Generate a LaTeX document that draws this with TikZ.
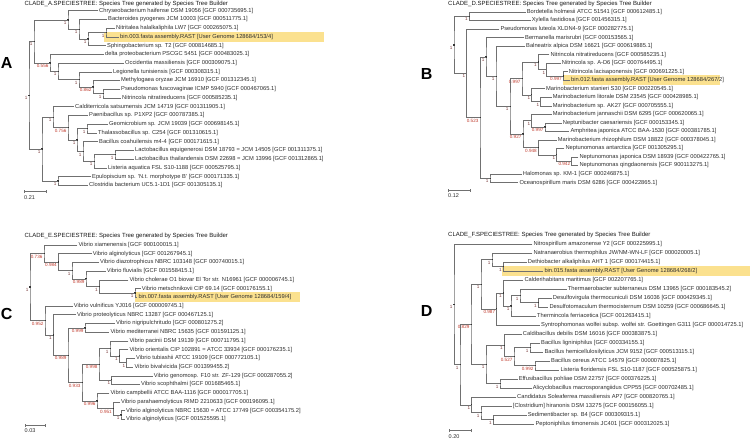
\documentclass[tikz,border=0pt]{standalone}
\usepackage{fontspec}
\setmainfont{Liberation Sans}
\usetikzlibrary{calc}
\definecolor{brc}{HTML}{707070}
\definecolor{txc}{HTML}{2E2E2E}
\definecolor{supc}{HTML}{C0392B}
\definecolor{supone}{HTML}{7A3A3A}
\definecolor{hil}{HTML}{FBE18F}
\def\labone{1}
\tikzset{
 br/.style={draw=brc, line width=0.55pt},
 mk/.style={fill=black!80},
 leaf/.style={anchor=west, inner xsep=1pt, inner ysep=0pt, text height=4.1pt, text depth=1.2pt, font=\fontsize{5.75}{6}\selectfont, text=txc},
 supl/.style={anchor=north east, inner sep=0pt, text height=3.3pt, text depth=0pt, font=\fontsize{4.6}{5}\selectfont},
 ttl/.style={anchor=west, inner sep=0pt, text height=4.4pt, text depth=1.3pt, font=\fontsize{6}{7}\selectfont, text=black!90},
 scl/.style={anchor=west, inner sep=0pt, text height=3.8pt, text depth=0pt, font=\fontsize{5.5}{6}\selectfont, text=txc},
 panl/.style={inner sep=0pt, font=\fontsize{16}{16}\selectfont\bfseries},
 hl/.style={fill=hil},
}
\newcommand\tnode[5]{%
  \path let \p1=($(#3)!.5!(#4)$) in coordinate (#1) at (#2pt,\y1);
  \draw[br] (#3) -| (#1) |- (#4);
  \fill[mk] ($(#1)+(-0.7pt,-0.7pt)$) rectangle ($(#1)+(0.7pt,0.7pt)$);
  \def\tmplab{#5}%
  \ifx\tmplab\labone\def\labcol{supone}\else\def\labcol{supc}\fi
  \node[supl,text=\labcol] (#1-l) at ($(#1)+(-1.4pt,-1.1pt)$) {#5};
}
\begin{document}
\begin{tikzpicture}[x=1pt,y=-1pt]
\fill[white] (0,0) rectangle (750,440);
\useasboundingbox (0,0) rectangle (750,440);

% highlights
\fill[hl] (104,32) rectangle (324,41.8);
\fill[hl] (562.7,75.3) rectangle (720,85.3);
\fill[hl] (135,291.8) rectangle (300,302);
\fill[hl] (501.7,265.5) rectangle (750,276);

% titles and panel letters
\node[ttl] (TA) at (24.5,4.3) {CLADE\_A.SPECIESTREE: Species Tree generated by Species Tree Builder};
\node[ttl] (TB) at (448,4.3) {CLADE\_D.SPECIESTREE: Species Tree generated by Species Tree Builder};
\node[ttl] (TC) at (24.5,236) {CLADE\_E.SPECIESTREE: Species Tree generated by Species Tree Builder};
\node[ttl] (TD) at (448,235) {CLADE\_F.SPECIESTREE: Species Tree generated by Species Tree Builder};
\node[panl] (LA) at (6.7,62.5) {A};
\node[panl] (LB) at (426.7,74) {B};
\node[panl] (LC) at (6.7,313.5) {C};
\node[panl] (LD) at (426.7,311) {D};

% ---------------- Panel A leaves
\node[leaf] (a1) at (98,10.7) {Chryseobacterium haifense DSM 19056 [GCF 000735695.1]};
\node[leaf] (a2) at (107,19.43) {Bacteroides pyogenes JCM 10003 [GCF 000511775.1]};
\node[leaf] (a3) at (115,28.16) {Nitritalea halalkaliphila LW7 [GCF 000265075.1]};
\node[leaf] (a4) at (119,36.89) {bin.003.fasta assembly.RAST [User Genome 128684/153/4]};
\node[leaf] (a5) at (106,45.62) {Sphingobacterium sp. T2 [GCF 000814685.1]};
\node[leaf] (a6) at (104,54.35) {delta proteobacterium PSCGC 5451 [GCF 000483025.1]};
\node[leaf] (a7) at (124,63.08) {Occidentia massiliensis [GCF 000309075.1]};
\node[leaf] (a8) at (112,71.81) {Legionella tunisiensis [GCF 000308315.1]};
\node[leaf] (a9) at (120,80.54) {Methylogaea oryzae JCM 16910 [GCF 001312345.1]};
\node[leaf] (a10) at (120,89.27) {Pseudomonas fuscovaginae ICMP 5940 [GCF 000467065.1]};
\node[leaf] (a11) at (121,98.0) {Nitrincola nitratireducens [GCF 000585235.1]};
\node[leaf] (a12) at (74,106.73) {Calditerricola satsumensis JCM 14719 [GCF 001311905.1]};
\node[leaf] (a13) at (88,115.46) {Paenibacillus sp. P1XP2 [GCF 000787385.1]};
\node[leaf] (a14) at (108,124.19) {Geomicrobium sp. JCM 19039 [GCF 000698145.1]};
\node[leaf] (a15) at (97,132.92) {Thalassobacillus sp. C254 [GCF 001310615.1]};
\node[leaf] (a16) at (98,141.65) {Bacillus coahuilensis m4-4 [GCF 000171615.1]};
\node[leaf] (a17) at (134,150.38) {Lactobacillus equigenerosi DSM 18793 = JCM 14505 [GCF 001311375.1]};
\node[leaf] (a18) at (134,159.11) {Lactobacillus thailandensis DSM 22698 = JCM 13996 [GCF 001312865.1]};
\node[leaf] (a19) at (107,167.84) {Listeria aquatica FSL S10-1188 [GCF 000525795.1]};
\node[leaf] (a20) at (91,176.57) {Epulopiscium sp. 'N.t. morphotype B' [GCF 000171335.1]};
\node[leaf] (a21) at (88,185.3) {Clostridia bacterium UC5.1-1D1 [GCF 001305135.1]};

\tnode{aN34}{106}{a3.west}{a4.west}{1}
\tnode{aN345}{88}{aN34}{a5.west}{1}
\tnode{aN2345}{79}{a2.west}{aN345}{1}
\tnode{aN15}{68}{a1.west}{aN2345}{1}
\tnode{aN1011}{103}{a10.west}{a11.west}{1}
\tnode{aN911}{93}{a9.west}{aN1011}{0.862}
\tnode{aN811}{79}{a8.west}{aN911}{1}
\tnode{aN711}{58}{a7.west}{aN811}{1}
\tnode{aN611}{50}{a6.west}{aN711}{0.556}
\tnode{aN111}{34}{aN15}{aN611}{1}
\tnode{aF1415}{87}{a14.west}{a15.west}{1}
\tnode{aF1718}{115}{a17.west}{a18.west}{1}
\tnode{aF1719}{94}{aF1718}{a19.west}{1}
\tnode{aF1619}{83}{a16.west}{aF1719}{1}
\tnode{aF1419}{77}{aF1415}{aF1619}{1}
\tnode{aF1319}{68}{a13.west}{aF1419}{0.756}
\tnode{aF1219}{53}{a12.west}{aF1319}{1}
\tnode{aF2021}{58}{a20.west}{a21.west}{1}
\tnode{aFall}{42}{aF1219}{aF2021}{1}
\tnode{aRoot}{29}{aN111}{aFall}{1}

\coordinate (sA1) at (24,191.7); \coordinate (sA2) at (46,191.7);
\draw[br] (sA1) -- (sA2);
\draw[br] ($(sA1)+(0,-1.5pt)$) -- ($(sA1)+(0,1.5pt)$);
\draw[br] ($(sA2)+(0,-1.5pt)$) -- ($(sA2)+(0,1.5pt)$);
\node[scl] (sAl) at (24,197.5) {0.21};

% ---------------- Panel B leaves
\node[leaf] (b1) at (525.7,12) {Bordetella holmesii ATCC 51541 [GCF 000612485.1]};
\node[leaf] (b2) at (530.7,20.53) {Xylella fastidiosa [GCF 001456315.1]};
\node[leaf] (b3) at (499.3,29.06) {Pseudomonas luteola XLDN4-9 [GCF 000282775.1]};
\node[leaf] (b4) at (524,37.59) {Bermanella marisrubri [GCF 000153565.1]};
\node[leaf] (b5) at (525,46.12) {Balneatrix alpica DSM 16621 [GCF 000619885.1]};
\node[leaf] (b6) at (549.3,54.65) {Nitrincola nitratireducens [GCF 000585235.1]};
\node[leaf] (b7) at (560.7,63.18) {Nitrincola sp. A-D6 [GCF 000764495.1]};
\node[leaf] (b8) at (567.7,71.71) {Nitrincola lacisaponensis [GCF 000691225.1]};
\node[leaf] (b9) at (570,80.24) {bin.012.fasta assembly.RAST [User Genome 128684/267/2]};
\node[leaf] (b10) at (545,88.77) {Marinobacterium stanieri S30 [GCF 000220545.1]};
\node[leaf] (b11) at (551.7,97.3) {Marinobacterium litorale DSM 23545 [GCF 000428985.1]};
\node[leaf] (b12) at (551.7,105.83) {Marinobacterium sp. AK27 [GCF 000705555.1]};
\node[leaf] (b13) at (551.7,114.36) {Marinobacterium jannaschii DSM 6295 [GCF 000620065.1]};
\node[leaf] (b14) at (561.7,122.89) {Neptunibacter caesariensis [GCF 000153345.1]};
\node[leaf] (b15) at (569.3,131.42) {Amphritea japonica ATCC BAA-1530 [GCF 000381785.1]};
\node[leaf] (b16) at (556.7,139.95) {Marinobacterium rhizophilum DSM 18822 [GCF 000378045.1]};
\node[leaf] (b17) at (564.3,148.48) {Neptunomonas antarctica [GCF 001305295.1]};
\node[leaf] (b18) at (578.3,157.01) {Neptunomonas japonica DSM 18939 [GCF 000422765.1]};
\node[leaf] (b19) at (578.3,165.54) {Neptunomonas qingdaonensis [GCF 900113275.1]};
\node[leaf] (b20) at (521.7,174.07) {Halomonas sp. KM-1 [GCF 000246875.1]};
\node[leaf] (b21) at (518.3,182.6) {Oceanospirillum maris DSM 6286 [GCF 000422865.1]};

\tnode{bN12}{469.3}{b1.west}{b2.west}{1}
\tnode{bNit3}{563.3}{b8.west}{b9.west}{0.997}
\tnode{bNit2}{546.7}{b7.west}{bNit3}{1}
\tnode{bNit1}{538.3}{b6.west}{bNit2}{1}
\tnode{bMS2}{540.7}{b11.west}{b12.west}{1}
\tnode{bMS1}{531.7}{b10.west}{bMS2}{1}
\tnode{bU}{522}{bNit1}{bMS1}{0.997}
\tnode{bMJ2}{545}{b14.west}{b15.west}{0.997}
\tnode{bMJ1}{531.7}{b13.west}{bMJ2}{1}
\tnode{bNep2}{571.7}{b18.west}{b19.west}{0.942}
\tnode{bNep1}{556.7}{b17.west}{bNep2}{1}
\tnode{bRh1}{538.3}{b16.west}{bNep1}{0.948}
\tnode{bL}{523}{bMJ1}{bRh1}{0.927}
\tnode{bN5}{510}{bU}{bL}{1}
\tnode{bN4}{496}{b5.west}{bN5}{1}
\tnode{bN3}{486}{b4.west}{bN4}{1}
\tnode{bHalo}{490}{b20.west}{b21.west}{1}
\tnode{bN2}{480}{bN3}{bHalo}{0.523}
\tnode{bRest}{466.7}{b3.west}{bN2}{1}
\tnode{bRoot}{454}{bN12}{bRest}{1}

\coordinate (sB1) at (448.3,190); \coordinate (sB2) at (470,190);
\draw[br] (sB1) -- (sB2);
\draw[br] ($(sB1)+(0,-1.5pt)$) -- ($(sB1)+(0,1.5pt)$);
\draw[br] ($(sB2)+(0,-1.5pt)$) -- ($(sB2)+(0,1.5pt)$);
\node[scl] (sBl) at (448,195.5) {0.12};

% ---------------- Panel C leaves
\node[leaf] (c1) at (77.3,245) {Vibrio xiamenensis [GCF 900100015.1]};
\node[leaf] (c2) at (91.7,253.72) {Vibrio alginolyticus [GCF 001267945.1]};
\node[leaf] (c3) at (99,262.44) {Vibrio diazotrophicus NBRC 103148 [GCF 000740015.1]};
\node[leaf] (c4) at (105.7,271.16) {Vibrio fluvialis [GCF 001558415.1]};
\node[leaf] (c5) at (128.3,279.88) {Vibrio cholerae O1 biovar El Tor str. N16961 [GCF 000006745.1]};
\node[leaf] (c6) at (140.7,288.6) {Vibrio metschnikovii CIP 69.14 [GCF 000176155.1]};
\node[leaf] (c7) at (137.3,297.32) {bin.007.fasta assembly.RAST [User Genome 128684/159/4]};
\node[leaf] (c8) at (72.7,306.04) {Vibrio vulnificus YJ016 [GCF 000009745.1]};
\node[leaf] (c9) at (76,314.76) {Vibrio proteolyticus NBRC 13287 [GCF 000467125.1]};
\node[leaf] (c10) at (115,323.48) {Vibrio nigripulchritudo [GCF 000801275.2]};
\node[leaf] (c11) at (109.3,332.2) {Vibrio mediterranei NBRC 15635 [GCF 001591125.1]};
\node[leaf] (c12) at (128.3,340.92) {Vibrio pacinii DSM 19139 [GCF 000711795.1]};
\node[leaf] (c13) at (128.3,349.64) {Vibrio orientalis CIP 102891 = ATCC 33934 [GCF 000176235.1]};
\node[leaf] (c14) at (135,358.36) {Vibrio tubiashii ATCC 19109 [GCF 000772105.1]};
\node[leaf] (c15) at (133.3,367.08) {Vibrio bivalvicida [GCF 001399455.2]};
\node[leaf] (c16) at (152.7,375.8) {Vibrio genomosp. F10 str. ZF-129 [GCF 000287055.2]};
\node[leaf] (c17) at (140,384.52) {Vibrio scophthalmi [GCF 001685465.1]};
\node[leaf] (c18) at (109.3,393.24) {Vibrio campbellii ATCC BAA-1116 [GCF 000017705.1]};
\node[leaf] (c19) at (120,401.96) {Vibrio parahaemolyticus RIMD 2210633 [GCF 000196095.1]};
\node[leaf] (c20) at (125,410.68) {Vibrio alginolyticus NBRC 15630 = ATCC 17749 [GCF 000354175.2]};
\node[leaf] (c21) at (125,419.4) {Vibrio alginolyticus [GCF 001525595.1]};

\tnode{cN67}{135}{c6.west}{c7.west}{1}
\tnode{cN57}{99.3}{c5.west}{cN67}{1}
\tnode{cN47}{86}{c4.west}{cN57}{0.989}
\tnode{cN37}{72}{c3.west}{cN47}{1}
\tnode{cN27}{58.3}{c2.west}{cN37}{0.984}
\tnode{cN17}{44}{c1.west}{cN27}{0.736}
\tnode{cN1011}{85}{c10.west}{c11.west}{0.999}
\tnode{cN1415}{126.7}{c14.west}{c15.west}{1}
\tnode{cN1315}{119.3}{c13.west}{cN1415}{1}
\tnode{cN1215}{110}{c12.west}{cN1315}{1}
\tnode{cN1617}{111.7}{c16.west}{c17.west}{1}
\tnode{cN1217}{99}{cN1215}{cN1617}{0.998}
\tnode{cN2021}{121}{c20.west}{c21.west}{1}
\tnode{cN1921}{113.3}{c19.west}{cN2021}{0.951}
\tnode{cN1821}{97}{c18.west}{cN1921}{0.996}
\tnode{cN1221}{82}{cN1217}{cN1821}{0.933}
\tnode{cN1021}{68}{cN1011}{cN1221}{0.989}
\tnode{cN921}{53.3}{c9.west}{cN1021}{1}
\tnode{cN821}{45}{c8.west}{cN921}{0.952}
\tnode{cRoot}{30}{cN17}{cN821}{1}

\coordinate (sC1) at (25,425.3); \coordinate (sC2) at (45.7,425.3);
\draw[br] (sC1) -- (sC2);
\draw[br] ($(sC1)+(0,-1.5pt)$) -- ($(sC1)+(0,1.5pt)$);
\draw[br] ($(sC2)+(0,-1.5pt)$) -- ($(sC2)+(0,1.5pt)$);
\node[scl] (sCl) at (24.5,431) {0.03};

% ---------------- Panel D leaves
\node[leaf] (d1) at (532.3,244) {Nitrospirillum amazonense Y2 [GCF 000225995.1]};
\node[leaf] (d2) at (532.3,253) {Natranaerobius thermophilus JW/NM-WN-LF [GCF 000020005.1]};
\node[leaf] (d3) at (526.7,262) {Dethiobacter alkaliphilus AHT 1 [GCF 000174415.1]};
\node[leaf] (d4) at (543.3,271) {bin.015.fasta assembly.RAST [User Genome 128684/268/2]};
\node[leaf] (d5) at (523.3,280) {Calderihabitans maritimus [GCF 002207765.1]};
\node[leaf] (d6) at (566.7,289) {Thermaerobacter subterraneus DSM 13965 [GCF 000183545.2]};
\node[leaf] (d7) at (551.7,298) {Desulfovirgula thermocuniculi DSM 16036 [GCF 000429345.1]};
\node[leaf] (d8) at (548.3,307) {Desulfotomaculum thermocisternum DSM 10259 [GCF 000686645.1]};
\node[leaf] (d9) at (536,316) {Thermincola ferriacetica [GCF 001263415.1]};
\node[leaf] (d10) at (540,325) {Syntrophomonas wolfei subsp. wolfei str. Goettingen G311 [GCF 000014725.1]};
\node[leaf] (d11) at (521.7,334) {Caldibacillus debilis DSM 16016 [GCF 000383875.1]};
\node[leaf] (d12) at (540,343) {Bacillus ligniniphilus [GCF 000334155.1]};
\node[leaf] (d13) at (543.3,352) {Bacillus hemicellulosilyticus JCM 9152 [GCF 000513115.1]};
\node[leaf] (d14) at (550,361) {Bacillus cereus ATCC 14579 [GCF 000007825.1]};
\node[leaf] (d15) at (559.3,370) {Listeria floridensis FSL S10-1187 [GCF 000525875.1]};
\node[leaf] (d16) at (517.7,379) {Effusibacillus pohliae DSM 22757 [GCF 000376225.1]};
\node[leaf] (d17) at (531.7,388) {Alicyclobacillus macrosporangiidus CPP55 [GCF 000702485.1]};
\node[leaf] (d18) at (516,397) {Candidatus Soleaferrea massiliensis AP7 [GCF 000820765.1]};
\node[leaf] (d19) at (511.7,406) {[Clostridium] hiranonis DSM 13275 [GCF 000156055.1]};
\node[leaf] (d20) at (526.7,415) {Sedimentibacter sp. B4 [GCF 000309315.1]};
\node[leaf] (d21) at (534.3,424) {Peptoniphilus timonensis JC401 [GCF 000312025.1]};

\tnode{dN34}{503.3}{d3.west}{d4.west}{1}
\tnode{dN24}{492}{d2.west}{dN34}{1}
\tnode{dN78}{538.3}{d7.west}{d8.west}{1}
\tnode{dN68}{520}{d6.west}{dN78}{1}
\tnode{dN69}{511}{dN68}{d9.west}{1}
\tnode{dN59}{503.3}{d5.west}{dN69}{1}
\tnode{dN510}{496.7}{dN59}{d10.west}{0.987}
\tnode{dA}{481}{dN24}{dN510}{1}
\tnode{dN1213}{530}{d12.west}{d13.west}{1}
\tnode{dN1415}{535}{d14.west}{d15.west}{0.992}
\tnode{dN1215}{514}{dN1213}{dN1415}{0.527}
\tnode{dN1115}{504.3}{d11.west}{dN1215}{1}
\tnode{dN1617}{500}{d16.west}{d17.west}{1}
\tnode{dN1117}{486}{dN1115}{dN1617}{1}
\tnode{dR2}{471}{dA}{dN1117}{0.829}
\tnode{dN2021}{493.3}{d20.west}{d21.west}{1}
\tnode{dN1921}{481}{d19.west}{dN2021}{1}
\tnode{dN1821}{471.7}{d18.west}{dN1921}{1}
\tnode{dR1}{460}{dR2}{dN1821}{1}
\tnode{dRoot}{454}{d1.west}{dR1}{1}

\coordinate (sD1) at (449,430.7); \coordinate (sD2) at (471,430.7);
\draw[br] (sD1) -- (sD2);
\draw[br] ($(sD1)+(0,-1.5pt)$) -- ($(sD1)+(0,1.5pt)$);
\draw[br] ($(sD2)+(0,-1.5pt)$) -- ($(sD2)+(0,1.5pt)$);
\node[scl] (sDl) at (448.5,437) {0.20};
\end{tikzpicture}
\end{document}
